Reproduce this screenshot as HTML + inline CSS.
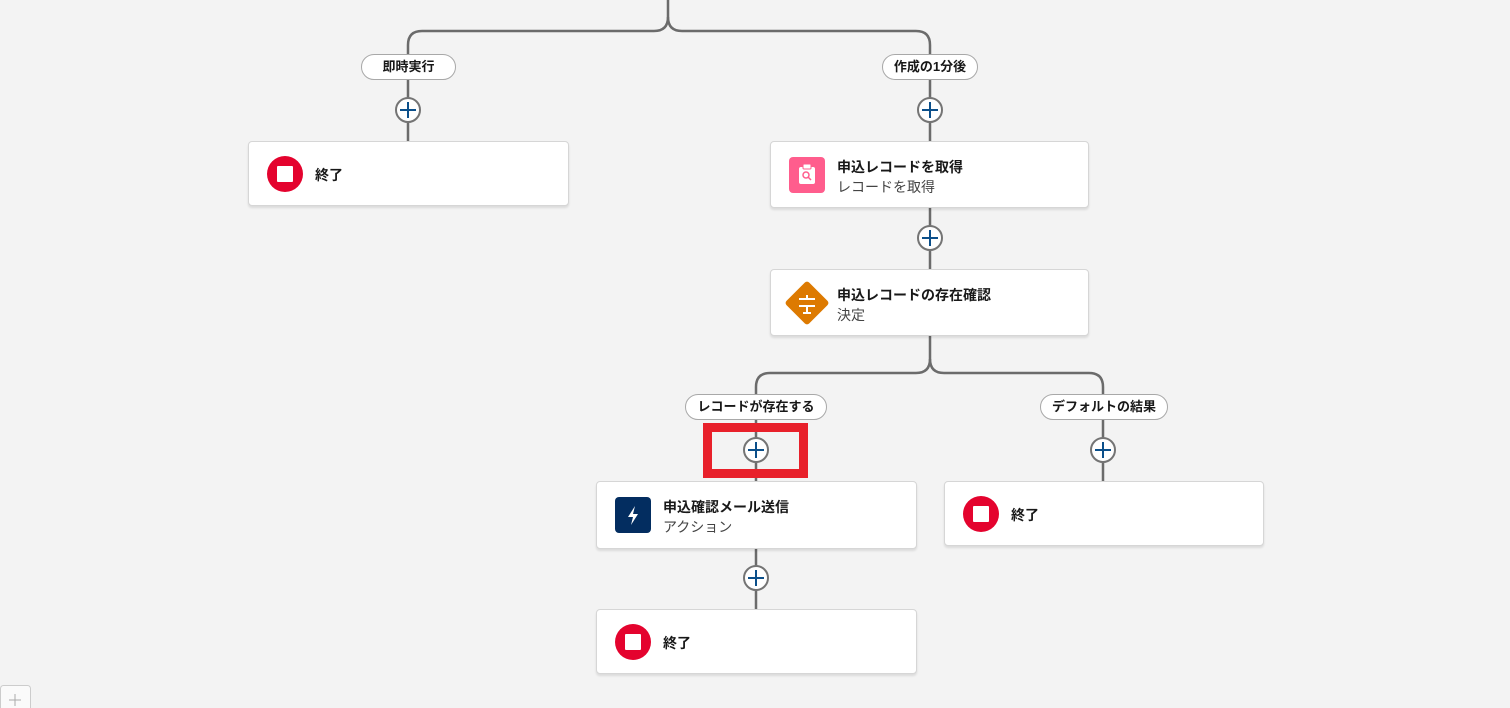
<!DOCTYPE html>
<html><head><meta charset="utf-8"><style>
body{margin:0;width:1510px;height:708px;background:#f3f3f3;position:relative;overflow:hidden;font-family:"Liberation Sans","Noto Sans CJK JP",sans-serif;}
.card{position:absolute;background:#fff;border:1px solid #d6d6d6;border-radius:4px;box-shadow:0 2px 2px rgba(0,0,0,.1);box-sizing:border-box;}
.t{position:absolute;left:66px;font-size:14px;font-weight:bold;color:#181818;}
.s{position:absolute;left:66px;font-size:14px;color:#444;}
.pill{position:absolute;height:26px;border:1px solid #a8a8a8;border-radius:13px;background:#fff;box-sizing:border-box;font-size:13px;font-weight:bold;color:#181818;text-align:center;line-height:24px;}
.stop{position:absolute;left:18px;width:36px;height:36px;border-radius:50%;background:#e4032e;}
.stop:after{content:"";position:absolute;left:10px;top:10px;width:16px;height:16px;background:#fff;border-radius:1px;}
</style></head><body>
<svg width="1510" height="708" style="position:absolute;left:0;top:0" fill="none">
<g stroke="#6b6b6b" stroke-width="2.5">
<path d="M668 0 V17 Q668 31 654 31 H422 Q408 31 408 45 V141"/>
<path d="M668 17 Q668 31 682 31 H916 Q930 31 930 45 V141"/>
<path d="M930 207 V269"/>
<path d="M930 335 V359 Q930 373 916 373 H770 Q756 373 756 387 V481"/>
<path d="M930 359 Q930 373 944 373 H1089 Q1103 373 1103 387 V481"/>
<path d="M756 548 V609"/>
</g>
<g stroke="#747474" stroke-width="2" fill="#fff">
<circle cx="408" cy="110" r="12"/><circle cx="930" cy="110" r="12"/><circle cx="930" cy="238" r="12"/>
<circle cx="756" cy="450" r="12"/><circle cx="1103" cy="450" r="12"/><circle cx="756" cy="578" r="12"/>
</g>
<g stroke="#0b4f8a" stroke-width="2">
<path d="M400 110h16M408 102v16"/><path d="M922 110h16M930 102v16"/><path d="M922 238h16M930 230v16"/>
<path d="M748 450h16M756 442v16"/><path d="M1095 450h16M1103 442v16"/><path d="M748 578h16M756 570v16"/>
</g>
<rect x="707.5" y="427.5" width="96" height="46" stroke="#e8202a" stroke-width="9"/>
<rect x="0.5" y="685.5" width="30" height="30" rx="3" fill="#fafafa" stroke="#ccc"/>
<path d="M9 700h12M15 694v12" stroke="#aaa" stroke-width="1"/>
</svg>
<div class="pill" style="left:361px;top:54px;width:95px">即時実行</div>
<div class="pill" style="left:882px;top:54px;width:96px">作成の1分後</div>
<div class="pill" style="left:685px;top:394px;width:142px">レコードが存在する</div>
<div class="pill" style="left:1040px;top:394px;width:128px">デフォルトの結果</div>

<div class="card" style="left:248px;top:141px;width:321px;height:65px"><div class="stop" style="top:14px"></div><div class="t" style="top:23px">終了</div></div>

<div class="card" style="left:770px;top:141px;width:319px;height:67px">
<div style="position:absolute;left:18px;top:15px;width:36px;height:36px;border-radius:4px;background:#ff5d8d">
<svg width="36" height="36"><rect x="10" y="10" width="16" height="17" rx="2" fill="#fff"/><rect x="14" y="7" width="8" height="5" rx="1" fill="#fff" stroke="#ff5d8d"/><circle cx="17" cy="18" r="3" stroke="#ff5d8d" stroke-width="1.5" fill="none"/><path d="M19 20l3 3" stroke="#ff5d8d" stroke-width="1.5"/></svg></div>
<div class="t" style="top:15px">申込レコードを取得</div><div class="s" style="top:35px">レコードを取得</div></div>

<div class="card" style="left:770px;top:269px;width:319px;height:67px">
<div style="position:absolute;left:20px;top:17px;width:32px;height:32px;background:#dd7a01;transform:rotate(45deg);border-radius:3px"></div>
<svg width="36" height="36" style="position:absolute;left:18px;top:15px"><path d="M10 14h16M10 21h16M18 10v4M18 21v7M14 28h8" stroke="#fff" stroke-width="2"/></svg>
<div class="t" style="top:15px">申込レコードの存在確認</div><div class="s" style="top:35px">決定</div></div>

<div class="card" style="left:596px;top:481px;width:321px;height:68px">
<div style="position:absolute;left:18px;top:15px;width:36px;height:36px;border-radius:4px;background:#032d60">
<svg width="36" height="36"><path d="M20 9l-7 11h5l-2 8 7-11h-5z" fill="#fff"/></svg></div>
<div class="t" style="top:15px">申込確認メール送信</div><div class="s" style="top:35px">アクション</div></div>

<div class="card" style="left:944px;top:481px;width:320px;height:65px"><div class="stop" style="top:14px"></div><div class="t" style="top:23px">終了</div></div>
<div class="card" style="left:596px;top:609px;width:321px;height:65px"><div class="stop" style="top:14px"></div><div class="t" style="top:23px">終了</div></div>
</body></html>
